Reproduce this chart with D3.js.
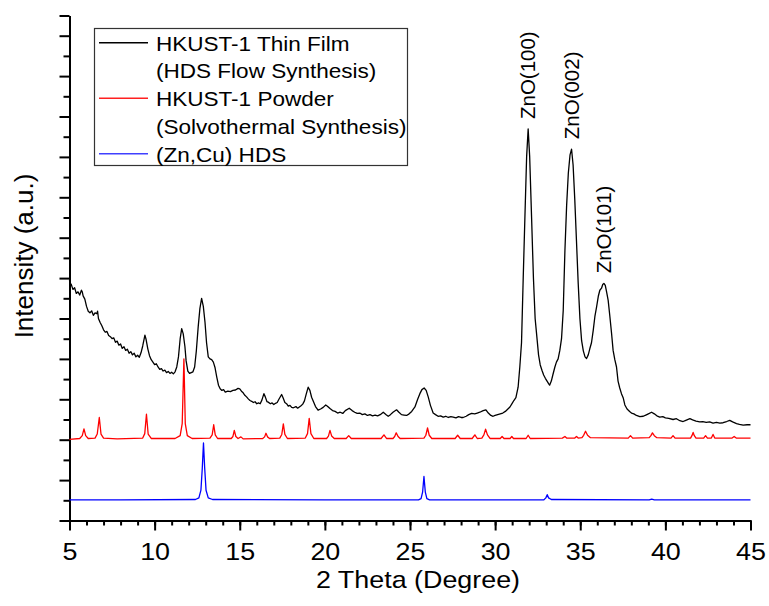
<!DOCTYPE html>
<html lang="en">
<head>
    <meta charset="UTF-8">
    <title>XRD Patterns</title>
    <script src="https://d3js.org/d3.v7.min.js"></script>
    <style>
        body { margin: 0; background: #fff; }
        text { font-family: "Liberation Sans", Arial, sans-serif; fill: #000; }
        .axis path, .axis line { stroke: #000; stroke-width: 2; }
        .curve { fill: none; stroke-width: 1.3; stroke-linejoin: round; }
    </style>
</head>
<body>
    <svg id="chart" width="769" height="606"></svg>

    <script>
        // 2 theta (degree), intensity (a.u.)
        const filmData = [[5.0,595],[5.05,580],[5.1,585],[5.2,572],[5.3,576],[5.4,562],[5.5,566],[5.6,558],[5.7,570],[5.75,566],[5.8,556],[5.9,548],[6.0,530],[6.1,518],[6.2,514],[6.3,519],[6.4,508],[6.5,514],[6.6,512],[6.65,518],[6.7,500],[6.8,490],[6.9,482],[7.0,472],[7.1,466],[7.2,468],[7.3,458],[7.4,455],[7.5,450],[7.6,452],[7.7,441],[7.8,444],[7.9,434],[8.0,437],[8.1,426],[8.2,430],[8.3,421],[8.4,424],[8.5,414],[8.6,418],[8.7,410],[8.8,414],[8.9,405],[9.0,409],[9.1,404],[9.2,415],[9.3,432],[9.43,459],[9.5,448],[9.6,425],[9.7,408],[9.8,398],[9.9,392],[10.0,386],[10.1,388],[10.2,380],[10.3,374],[10.4,376],[10.5,370],[10.6,372],[10.7,366],[10.8,369],[10.9,364],[11.0,367],[11.1,363],[11.2,368],[11.3,380],[11.4,405],[11.5,450],[11.59,475],[11.68,462],[11.78,430],[11.85,395],[11.95,370],[12.05,364],[12.15,366],[12.25,368],[12.35,380],[12.45,420],[12.56,480],[12.66,525],[12.76,550],[12.86,530],[12.96,490],[13.05,440],[13.15,405],[13.25,400],[13.35,398],[13.45,392],[13.55,378],[13.65,355],[13.75,335],[13.85,326],[13.95,322],[14.05,324],[14.15,318],[14.3,320],[14.45,319],[14.6,322],[14.75,323],[14.9,327],[15.0,326],[15.1,320],[15.2,316],[15.3,310],[15.4,306],[15.5,301],[15.6,297],[15.7,295],[15.8,292],[15.9,294],[16.0,289],[16.1,291],[16.2,289],[16.3,298],[16.42,314],[16.5,306],[16.6,294],[16.67,293],[16.8,289],[16.9,291],[17.0,287],[17.1,290],[17.2,292],[17.3,300],[17.46,312],[17.55,303],[17.65,292],[17.75,289],[17.85,283],[17.95,285],[18.05,280],[18.15,279],[18.3,282],[18.4,278],[18.5,281],[18.6,284],[18.7,288],[18.8,296],[18.9,312],[19.02,330],[19.12,322],[19.22,305],[19.32,295],[19.45,282],[19.6,273],[19.75,276],[19.9,280],[20.05,286],[20.15,283],[20.3,277],[20.45,272],[20.6,270],[20.75,266],[20.9,268],[21.05,265],[21.2,272],[21.43,278],[21.6,272],[21.75,268],[21.9,265],[22.05,266],[22.2,262],[22.35,264],[22.5,260],[22.65,262],[22.8,259],[22.95,261],[23.1,259],[23.25,262],[23.43,268],[23.6,262],[23.72,258],[23.85,262],[24.0,268],[24.21,274],[24.35,268],[24.5,262],[24.65,261],[24.8,260],[24.95,264],[25.1,270],[25.29,281],[25.45,300],[25.58,314],[25.7,324],[25.83,328],[25.95,322],[26.07,306],[26.2,285],[26.36,266],[26.5,262],[26.65,258],[26.8,259],[26.95,256],[27.1,258],[27.25,255],[27.4,257],[27.54,256],[27.7,254],[27.85,257],[28.0,255],[28.12,255],[28.3,258],[28.45,262],[28.62,265],[28.8,264],[28.95,266],[29.1,268],[29.3,272],[29.46,274],[29.6,266],[29.75,260],[29.88,258],[30.0,260],[30.15,262],[30.3,264],[30.45,266],[30.6,270],[30.75,276],[30.87,281],[31.0,290],[31.1,297],[31.22,304],[31.35,330],[31.45,380],[31.55,440],[31.65,600],[31.75,752],[31.85,900],[31.94,969],[32.03,900],[32.14,752],[32.25,600],[32.35,500],[32.45,455],[32.55,410],[32.65,385],[32.75,372],[32.85,360],[32.95,352],[33.05,345],[33.15,338],[33.2,335],[33.3,345],[33.4,362],[33.51,380],[33.6,392],[33.7,400],[33.8,421],[33.9,450],[34.0,520],[34.1,669],[34.2,780],[34.3,860],[34.4,905],[34.49,919],[34.58,880],[34.68,793],[34.78,690],[34.88,587],[34.98,500],[35.08,445],[35.18,420],[35.28,405],[35.37,401],[35.47,410],[35.56,425],[35.66,440],[35.76,470],[35.86,505],[35.96,529],[36.06,555],[36.15,570],[36.25,575],[36.32,584],[36.39,587],[36.47,582],[36.55,565],[36.64,545],[36.74,505],[36.84,463],[36.93,421],[37.03,398],[37.13,380],[37.22,345],[37.32,328],[37.42,314],[37.52,304],[37.62,286],[37.75,276],[37.9,270],[38.01,266],[38.15,264],[38.3,260],[38.5,257],[38.7,258],[38.85,261],[39.0,264],[39.19,268],[39.35,264],[39.5,259],[39.67,256],[39.85,257],[40.0,254],[40.2,253],[40.45,250],[40.65,252],[40.85,247],[41.04,245],[41.2,248],[41.44,252],[41.6,249],[41.8,246],[42.02,244],[42.2,245],[42.4,243],[42.6,244],[42.8,241],[43.0,243],[43.2,241],[43.39,242],[43.6,245],[43.78,248],[43.95,244],[44.18,240],[44.35,238],[44.57,236],[44.8,237],[45.0,237]];

        const powderData = [[5.0,201],[5.6,203],[5.75,210],[5.85,227],[5.95,210],[6.1,203],[6.5,204],[6.63,214],[6.75,255],[6.85,214],[7.0,204],[7.8,202],[9.3,204],[9.42,215],[9.52,263],[9.62,214],[9.8,203],[11.2,203],[11.5,210],[11.62,240],[11.72,400],[11.8,240],[11.92,210],[12.2,203],[13.25,204],[13.38,212],[13.47,237],[13.56,212],[13.7,203],[14.5,203],[14.6,208],[14.68,223],[14.77,208],[14.9,203],[15.07,207],[15.2,202],[16.35,203],[16.46,207],[16.54,216],[16.63,207],[16.75,203],[17.35,204],[17.47,213],[17.56,239],[17.65,213],[17.8,203],[18.85,204],[18.98,215],[19.08,253],[19.18,215],[19.35,203],[20.1,203],[20.21,209],[20.3,223],[20.4,209],[20.55,203],[21.25,203],[21.4,210],[21.55,203],[23.3,203],[23.47,212],[23.62,203],[24.0,203],[24.1,208],[24.19,217],[24.3,208],[24.42,203],[25.82,204],[25.93,211],[26.03,229],[26.13,211],[26.28,203],[27.65,203],[27.8,211],[27.95,203],[28.65,203],[28.81,212],[28.95,203],[29.22,204],[29.34,212],[29.44,226],[29.55,212],[29.7,203],[30.3,203],[30.41,208],[30.52,203],[30.88,203],[30.98,208],[31.08,203],[31.82,203],[31.94,211],[32.06,203],[33.95,204],[34.1,208],[34.2,204],[34.68,204],[34.78,208],[34.88,204],[35.1,205],[35.2,211],[35.31,221],[35.43,211],[35.6,205],[37.82,204],[37.95,210],[38.08,204],[39.05,205],[39.15,210],[39.24,217],[39.35,210],[39.5,205],[40.33,204],[40.45,210],[40.57,204],[41.48,204],[41.56,210],[41.63,218],[41.7,210],[41.8,204],[42.25,204],[42.36,210],[42.47,204],[42.7,204],[42.8,213],[42.9,204],[43.92,204],[44.04,208],[44.16,204],[45.0,204]];

        const hdsData = [[5.0,51],[8.0,51],[12.4,52],[12.6,56],[12.72,75],[12.8,130],[12.87,192],[12.94,130],[13.02,75],[13.15,56],[13.4,52],[20.0,51],[25.5,51],[25.65,54],[25.74,70],[25.82,109],[25.9,70],[25.99,54],[26.15,51],[32.85,51],[32.98,56],[33.06,64],[33.14,56],[33.3,52],[39.05,51],[39.2,53],[39.35,51],[45.0,51]];

        const seriesNames = ["HKUST-1 Thin Film", "HKUST-1 Powder", "(Zn,Cu) HDS"];
        const seriesSubtitles = ["(HDS Flow Synthesis)", "(Solvothermal Synthesis)", ""];
        const seriesColors = ["#000000", "#ff0000", "#0000ff"];
        const legendColors = ["#000000", "#ff2020", "#4040ff"];

        // peak labels: [label, 2 theta, intensity of peak]
        const peakLabels = [["ZnO(100)", 31.94, 969], ["ZnO(002)", 34.49, 919], ["ZnO(101)", 36.39, 587]];

        const xMajor = [5, 10, 15, 20, 25, 30, 35, 40, 45];
        const xMinor = d3.range(5, 46, 1);
        const yMajor = d3.range(0, 1300, 100);
        const yMinor = d3.range(50, 1250, 100);

        // the original text is a bit wider than Liberation Sans
        const stretch = "scale(1.12,1)";

        const svg = d3.select("#chart");

        const x = d3.scaleLinear().domain([5, 45]).range([69.5, 750.5]);
        const y = d3.scaleLinear().domain([0, 1250]).range([520.5, 15.5]);

        // minor ticks first, then main axes on top
        svg.append("g")
            .attr("class", "axis")
            .attr("transform", "translate(0,520.5)")
            .call(d3.axisBottom(x).tickValues(xMinor).tickSize(5).tickFormat(""))
            .call(g => g.select(".domain").remove());

        svg.append("g")
            .attr("class", "axis")
            .attr("transform", "translate(69.5,0)")
            .call(d3.axisLeft(y).tickValues(yMinor).tickSize(6).tickFormat(""))
            .call(g => g.select(".domain").remove());

        const xAxis = svg.append("g")
            .attr("class", "axis")
            .attr("transform", "translate(0,520.5)")
            .call(d3.axisBottom(x).tickValues(xMajor).tickSize(10).tickSizeOuter(0).tickPadding(12));
        xAxis.selectAll("text")
            .attr("transform", stretch)
            .style("font-size", "24px")
            .style("font-family", "'Liberation Sans', Arial, sans-serif");

        svg.append("g")
            .attr("class", "axis")
            .attr("transform", "translate(69.5,0)")
            .call(d3.axisLeft(y).tickValues(yMajor.concat([1250])).tickSize(10).tickSizeOuter(0).tickFormat(""));

        // curves
        const line = d3.line().x(d => x(d[0])).y(d => y(d[1]));
        [filmData, powderData, hdsData].forEach((data, i) => {
            svg.append("path")
                .attr("class", "curve")
                .attr("d", line(data))
                .attr("stroke", seriesColors[i]);
        });

        // peak annotations
        peakLabels.forEach(p => {
            svg.append("text")
                .attr("transform", `translate(${x(p[1]) + 7},${y(p[2]) - 10}) rotate(-90)`)
                .style("font-size", "20.5px")
                .text(p[0]);
        });

        // axis titles
        svg.append("text")
            .attr("transform", `translate(418,588) ${stretch}`)
            .attr("text-anchor", "middle")
            .style("font-size", "24px")
            .text("2 Theta (Degree)");

        svg.append("text")
            .attr("transform", "translate(33,256) rotate(-90)")
            .attr("text-anchor", "middle")
            .style("font-size", "26px")
            .text("Intensity (a.u.)");

        // legend
        const legend = svg.append("g");
        legend.append("rect")
            .attr("x", 94.5).attr("y", 28.5)
            .attr("width", 313).attr("height", 137)
            .attr("fill", "#fff")
            .attr("stroke", "#333")
            .attr("stroke-width", 1.2);

        const rowGap = 27.75;
        seriesNames.forEach((name, i) => {
            const base = 50.7 + i * 2 * rowGap;
            legend.append("line")
                .attr("x1", 99).attr("x2", 148)
                .attr("y1", base - 8).attr("y2", base - 8)
                .attr("stroke", legendColors[i])
                .attr("stroke-width", 1.5);
            legend.append("text")
                .attr("transform", `translate(156,${base}) scale(1.1,1)`)
                .style("font-size", "20.5px")
                .text(name);
            if (seriesSubtitles[i]) {
                legend.append("text")
                    .attr("transform", `translate(156,${base + rowGap}) scale(1.1,1)`)
                    .style("font-size", "20.5px")
                    .text(seriesSubtitles[i]);
            }
        });
    </script>
</body>
</html>
